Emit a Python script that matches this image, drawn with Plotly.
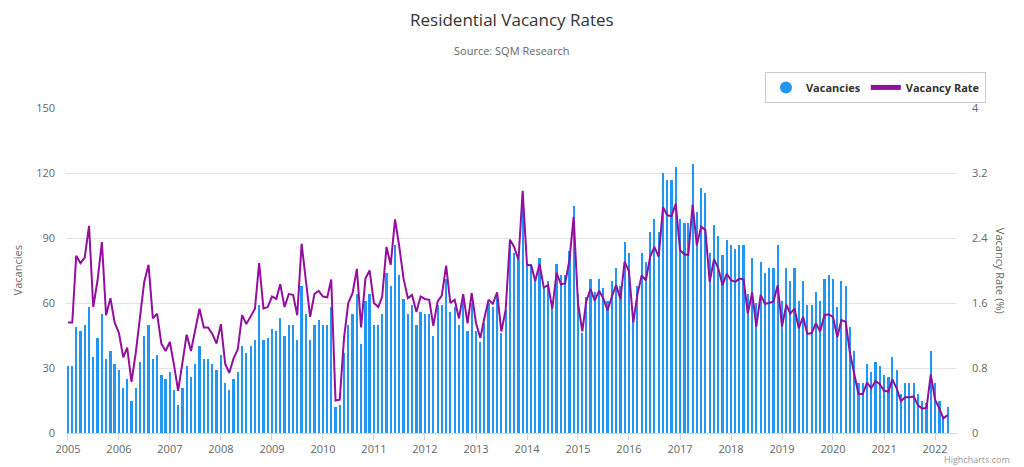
import pandas as pd
import plotly.graph_objects as go

# Monthly data, Jan 2005 .. Apr 2022
start_month = "2005-01-01"

vacancies = [
    31, 31, 49, 47, 50, 58, 35, 44, 55, 34, 38, 32,      # 2005
    29, 21, 25, 15, 21, 33, 45, 50, 34, 36, 27, 25,      # 2006
    28, 20, 13, 21, 31, 26, 32, 40, 34, 34, 32, 29,      # 2007
    36, 23, 20, 25, 28, 40, 37, 40, 43, 59, 43, 44,      # 2008
    48, 47, 53, 45, 50, 50, 43, 68, 55, 43, 50, 52,      # 2009
    50, 50, 58, 12, 13, 37, 50, 55, 64, 41, 61, 64,      # 2010
    50, 50, 55, 74, 68, 87, 73, 62, 55, 59, 50, 56,      # 2011
    55, 55, 45, 59, 59, 71, 56, 58, 50, 61, 47, 60,      # 2012
    47, 42, 51, 60, 58, 63, 46, 57, 87, 83, 80, 110,     # 2013
    78, 78, 70, 81, 68, 70, 58, 78, 73, 73, 84, 105,     # 2014
    64, 46, 63, 71, 65, 71, 67, 61, 70, 76, 68, 88,      # 2015
    83, 54, 68, 83, 79, 93, 99, 93, 120, 117, 117, 123,  # 2016
    99, 97, 97, 124, 102, 113, 111, 83, 96, 91, 82, 89,  # 2017
    87, 85, 87, 87, 64, 81, 60, 79, 74, 76, 76, 87,      # 2018
    61, 76, 70, 76, 61, 70, 59, 59, 65, 61, 71, 73,      # 2019
    71, 58, 70, 68, 49, 38, 23, 23, 32, 28, 33, 31,      # 2020
    27, 26, 35, 29, 18, 23, 23, 23, 18, 15, 14, 38,      # 2021
    23, 15, 8, 12,                                       # 2022
]

vacancy_rate = [
    1.36, 1.36, 2.18, 2.09, 2.16, 2.55, 1.55, 1.88, 2.35, 1.45, 1.66, 1.36,
    1.23, 0.93, 1.05, 0.63, 0.98, 1.43, 1.86, 2.07, 1.41, 1.47, 1.10, 1.01,
    1.12, 0.82, 0.52, 0.87, 1.21, 1.01, 1.25, 1.53, 1.30, 1.30, 1.22, 1.10,
    1.34, 0.85, 0.74, 0.92, 1.03, 1.45, 1.34, 1.44, 1.53, 2.09, 1.53, 1.55,
    1.68, 1.65, 1.83, 1.55, 1.71, 1.70, 1.45, 2.33, 1.90, 1.43, 1.71, 1.75,
    1.68, 1.67, 1.89, 0.40, 0.41, 1.17, 1.60, 1.72, 2.02, 1.30, 1.90, 2.00,
    1.60, 1.55, 1.68, 2.29, 2.07, 2.63, 2.30, 1.90, 1.66, 1.70, 1.49, 1.68,
    1.65, 1.64, 1.32, 1.62, 1.69, 2.06, 1.60, 1.64, 1.41, 1.71, 1.35, 1.72,
    1.35, 1.17, 1.41, 1.64, 1.59, 1.73, 1.25, 1.51, 2.38, 2.29, 2.13, 2.98,
    2.07, 2.06, 1.87, 2.08, 1.79, 1.82, 1.53, 1.97, 1.83, 1.84, 2.13, 2.66,
    1.60, 1.25, 1.62, 1.77, 1.63, 1.75, 1.66, 1.51, 1.68, 1.82, 1.65, 2.11,
    1.99, 1.36, 1.70, 1.94, 1.88, 2.17, 2.29, 2.17, 2.78, 2.68, 2.67, 2.82,
    2.25, 2.20, 2.19, 2.81, 2.31, 2.54, 2.50, 1.86, 2.14, 2.03, 1.82, 1.96,
    1.88, 1.86, 1.90, 1.89, 1.47, 1.73, 1.31, 1.70, 1.59, 1.60, 1.62, 1.82,
    1.31, 1.58, 1.47, 1.53, 1.29, 1.43, 1.22, 1.23, 1.35, 1.25, 1.45, 1.46,
    1.43, 1.18, 1.39, 1.37, 0.99, 0.75, 0.48, 0.48, 0.62, 0.55, 0.64, 0.60,
    0.52, 0.51, 0.66, 0.55, 0.39, 0.44, 0.44, 0.45, 0.34, 0.30, 0.31, 0.72,
    0.41, 0.30, 0.18, 0.22,
]

left_ticks = [0, 30, 60, 90, 120, 150]
right_ticks = [0, 0.8, 1.6, 2.4, 3.2, 4]

months = pd.date_range(start_month, periods=len(vacancies), freq="MS")

BAR_COLOR = "#2196F3"
LINE_COLOR = "#930f9e"
FONT = "Open Sans, sans-serif"

fig = go.Figure()
fig.add_trace(go.Bar(
    x=months, y=vacancies, name="Vacancies",
    marker=dict(color=BAR_COLOR, line=dict(width=0)),
    width=16 * 86400000, showlegend=False, yaxis="y",
))
# legend symbol (circle) for the bar series
fig.add_trace(go.Scatter(
    x=[None], y=[None], mode="markers", name="Vacancies",
    marker=dict(color=BAR_COLOR, size=11, symbol="circle"),
))
fig.add_trace(go.Scatter(
    x=months, y=vacancy_rate, name="Vacancy Rate", mode="lines",
    line=dict(color=LINE_COLOR, width=2), yaxis="y2",
))

fig.update_layout(
    width=1024, height=467,
    margin=dict(l=66, r=67, t=108, b=34),
    paper_bgcolor="white", plot_bgcolor="white",
    font=dict(family=FONT, color="#666666", size=11),
    bargap=0,
    showlegend=True,
    legend=dict(
        orientation="h", x=1.0325, xanchor="right", y=1.111, yanchor="top",
        bordercolor="#cccccc", borderwidth=1, bgcolor="white",
        font=dict(size=11, color="#333333", family=FONT, weight="bold"),
        itemsizing="constant", itemwidth=30,
    ),
    xaxis=dict(
        type="date",
        range=["2004-12-18", "2022-06-07"],
        tick0="2005-01-01", dtick="M12", tickformat="%Y",
        showgrid=False, zeroline=False,
        showline=True, linecolor="#ccd6eb", linewidth=1,
        ticks="outside", ticklen=6, tickcolor="#ccd6eb",
        tickfont=dict(size=11, color="#666666"),
    ),
    yaxis=dict(
        range=[0, 150], tickvals=left_ticks,
        showgrid=True, gridcolor="#e6e0ec", zeroline=False,
        showline=False, ticks="", ticklabelstandoff=10,
        tickfont=dict(size=11, color="#666666"),
    ),
    yaxis2=dict(
        range=[0, 4], tickvals=right_ticks, overlaying="y", side="right",
        showgrid=False, zeroline=False, showline=False, ticks="",
        ticklabelstandoff=14,
        tickfont=dict(size=11, color="#666666"),
    ),
    annotations=[
        dict(text="Residential Vacancy Rates", xref="paper", yref="paper",
             x=0.5, y=1.271, xanchor="center", yanchor="middle", showarrow=False,
             font=dict(size=17, color="#333333", family=FONT)),
        dict(text="Source: SQM Research", xref="paper", yref="paper",
             x=0.5, y=1.178, xanchor="center", yanchor="middle", showarrow=False,
             font=dict(size=11, color="#666666", family=FONT)),
        dict(text="Vacancies", xref="paper", yref="paper",
             x=-0.054, y=0.5, xanchor="center", yanchor="middle", showarrow=False,
             textangle=-90, font=dict(size=11, color="#666666", family=FONT)),
        dict(text="Vacancy Rate (%)", xref="paper", yref="paper",
             x=1.049, y=0.5, xanchor="center", yanchor="middle", showarrow=False,
             textangle=90, font=dict(size=11, color="#666666", family=FONT)),
        dict(text="Highcharts.com", xref="paper", yref="paper",
             x=1.0617, y=-0.08, xanchor="right", yanchor="middle", showarrow=False,
             font=dict(size=9, color="#999999", family=FONT)),
    ],
)

fig.write_html("out.html")
